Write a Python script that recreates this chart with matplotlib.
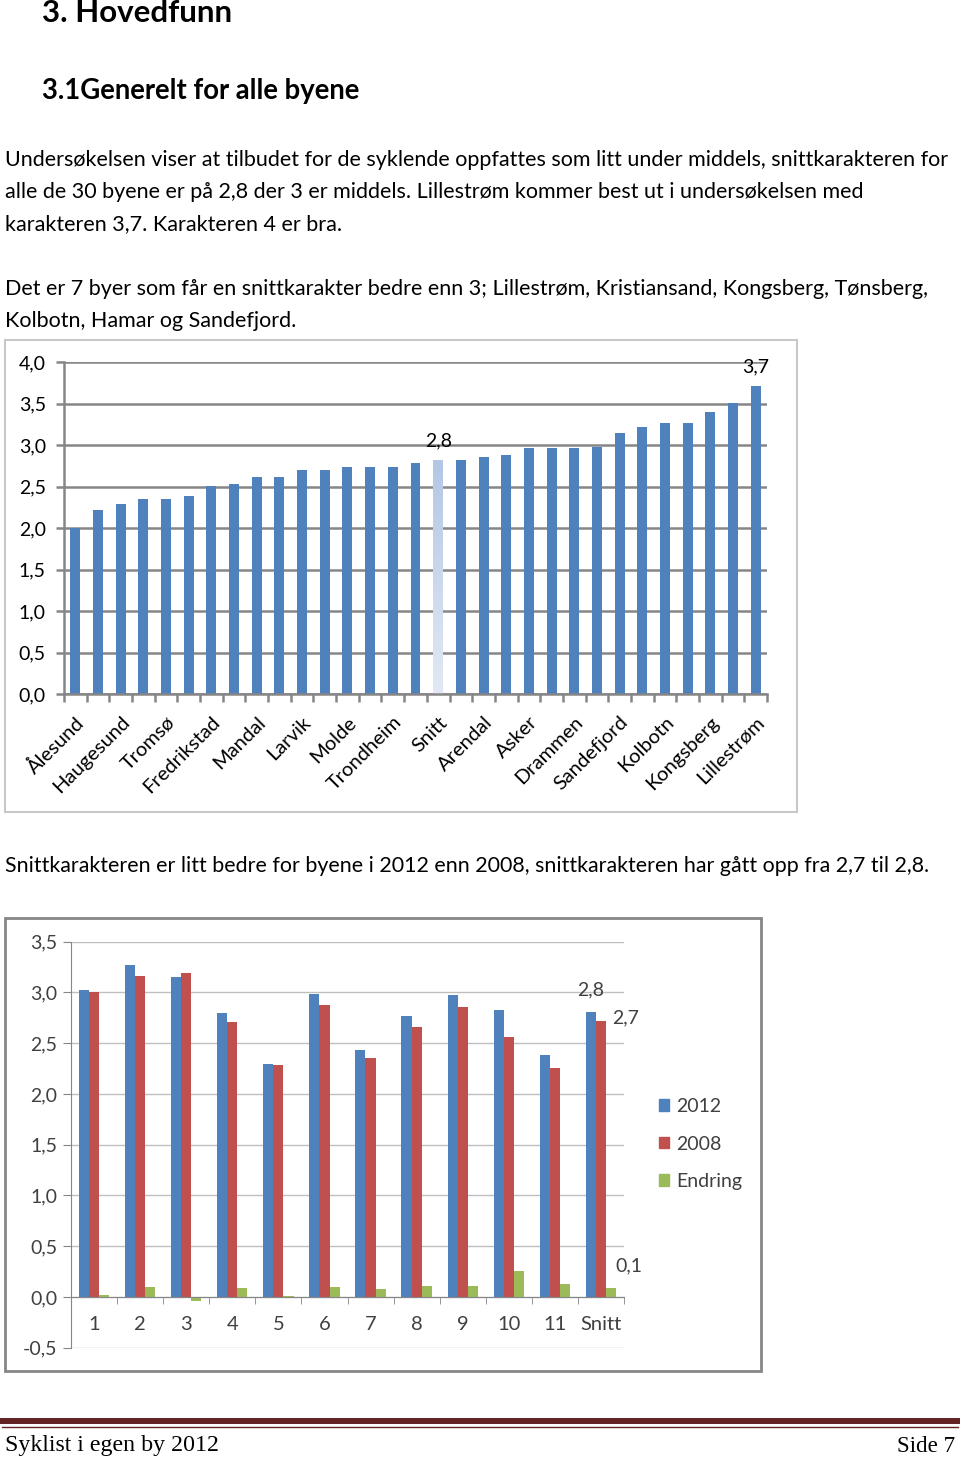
import numpy as np
import matplotlib.pyplot as plt
from matplotlib.patches import Rectangle, Patch
from matplotlib.lines import Line2D
from matplotlib.colors import LinearSegmentedColormap

W, H = 960, 1459
SANS = 'Lato'
SERIF = 'Liberation Serif'

# -------------------------------------------------------------------
# Data: chart 1 (average grade per city, sorted, 2012)
# -------------------------------------------------------------------
cities = ['Ålesund', '', 'Haugesund', '', 'Tromsø', '', 'Fredrikstad', '',
          'Mandal', '', 'Larvik', '', 'Molde', '', 'Trondheim', '',
          'Snitt', '', 'Arendal', '', 'Asker', '', 'Drammen', '',
          'Sandefjord', 'Hamar', 'Kolbotn', 'Tønsberg', 'Kongsberg',
          'Kristiansand', 'Lillestrøm']
scores = [2.00, 2.22, 2.29, 2.35, 2.35, 2.39, 2.51, 2.53, 2.61, 2.61,
          2.70, 2.70, 2.73, 2.74, 2.74, 2.78, 2.81, 2.82, 2.86, 2.88,
          2.96, 2.96, 2.96, 2.98, 3.14, 3.22, 3.26, 3.26, 3.40, 3.51, 3.71]
snitt_idx = cities.index('Snitt')
label_idx = [snitt_idx, len(cities) - 1]
label_txt = ['2,8', '3,7']

# -------------------------------------------------------------------
# Data: chart 2 (2012 vs 2008)
# -------------------------------------------------------------------
groups = ['1', '2', '3', '4', '5', '6', '7', '8', '9', '10', '11', 'Snitt']
v2012 = [3.02, 3.27, 3.15, 2.80, 2.30, 2.98, 2.43, 2.77, 2.97, 2.83, 2.38, 2.81]
v2008 = [3.00, 3.16, 3.19, 2.71, 2.29, 2.88, 2.35, 2.66, 2.86, 2.56, 2.26, 2.72]
endring = [0.02, 0.10, -0.04, 0.09, 0.01, 0.10, 0.08, 0.11, 0.11, 0.26, 0.13, 0.09]
series = [('2012', v2012, '#4f81bd'), ('2008', v2008, '#c0504d'),
          ('Endring', endring, '#9bbb59')]

BLUE = '#4f81bd'
GRID1 = '#868686'
DARK = '#404040'


def comma(v):
    return f'{v:.1f}'.replace('.', ',')


fig = plt.figure(figsize=(W / 100, H / 100), dpi=100)
fig.patch.set_facecolor('white')
fig.canvas.draw()
renderer = fig.canvas.get_renderer()


def px_axes(l, t, r, b):
    return fig.add_axes([l / W, 1 - b / H, (r - l) / W, (b - t) / H])


def put(x, y, s, width=None, size=12, ha='left', **kw):
    t = fig.text(x / W, 1 - y / H, s, ha=ha, va='center', fontsize=size, **kw)
    if width is not None:
        w = t.get_window_extent(renderer).width
        t.set_fontsize(size * width / w)
    return t


# -------------------------------------------------------------------
# Page text
# -------------------------------------------------------------------
put(42, 13, '3. Hovedfunn', width=190, family=SANS, weight='bold')
put(42, 91, '3.1Generelt for alle byene', width=318, family=SANS, weight='bold')

body = put(5, 160, 'Undersøkelsen viser at tilbudet for de syklende oppfattes som '
           'litt under middels, snittkarakteren for', width=940, family=SANS)
bs = body.get_fontsize()
put(5, 192, 'alle de 30 byene er på 2,8 der 3 er middels. Lillestrøm kommer best ut '
    'i undersøkelsen med', size=bs, family=SANS)
put(5, 224, 'karakteren 3,7. Karakteren 4 er bra.', size=bs, family=SANS)
put(5, 289, 'Det er 7 byer som får en snittkarakter bedre enn 3; Lillestrøm, '
    'Kristiansand, Kongsberg, Tønsberg,', size=bs, family=SANS)
put(5, 321, 'Kolbotn, Hamar og Sandefjord.', size=bs, family=SANS)
put(5, 866, 'Snittkarakteren er litt bedre for byene i 2012 enn 2008, '
    'snittkarakteren har gått opp fra 2,7 til 2,8.', width=917, family=SANS)

# footer
fig.add_artist(Line2D([2 / W, 958 / W], [1 - 1421 / H] * 2, transform=fig.transFigure,
                      color='#622423', lw=4.3))
fig.add_artist(Line2D([2 / W, 958 / W], [1 - 1426.5 / H] * 2, transform=fig.transFigure,
                      color='#622423', lw=1.0))
put(5, 1446, 'Syklist i egen by 2012', width=213, family=SERIF)
put(955, 1446, 'Side 7', width=58, ha='right', family=SERIF)

# -------------------------------------------------------------------
# Chart 1
# -------------------------------------------------------------------
fig.patches.append(Rectangle((5 / W, 1 - 812 / H), 792 / W, 472 / H,
                             transform=fig.transFigure, fill=False,
                             ec='#c8c8c8', lw=1.5))
ax1 = px_axes(64, 362, 767, 694)
x1 = np.arange(len(scores))
bars = ax1.bar(x1, scores, width=0.44, color=BLUE, zorder=2)
bars[snitt_idx].set_visible(False)
grad = LinearSegmentedColormap.from_list('snitt', ['#e2e9f4', '#b3c7e5'])
ax1.imshow(np.linspace(0, 1, 100).reshape(-1, 1), cmap=grad, origin='lower',
           aspect='auto', zorder=2,
           extent=[snitt_idx - 0.22, snitt_idx + 0.22, 0, scores[snitt_idx]])
ax1.set_xlim(-0.5, len(scores) - 0.5)
ax1.set_ylim(0, 4)
ax1.set_yticks(np.arange(0, 4.01, 0.5))
ax1.set_yticklabels([comma(v) for v in np.arange(0, 4.01, 0.5)],
                    family=SANS, fontsize=14)
ax1.grid(axis='y', color=GRID1, lw=1.8)
ax1.set_axisbelow(True)
for s in ['top', 'right']:
    ax1.spines[s].set_visible(False)
for s in ['left', 'bottom']:
    ax1.spines[s].set_color(GRID1)
    ax1.spines[s].set_linewidth(1.8)
ax1.tick_params(axis='y', length=6, width=1.8, color=GRID1, pad=7)
shown = list(range(0, len(cities), 2))
ax1.set_xticks(shown)
ax1.set_xticklabels([cities[i] for i in shown], rotation=45, ha='right',
                    rotation_mode='anchor', family=SANS, fontsize=14.5)
ax1.set_xticks(np.arange(-0.5, len(cities), 1), minor=True)
ax1.tick_params(axis='x', which='major', length=0, pad=14)
ax1.tick_params(axis='x', which='minor', length=6, width=1.8, color=GRID1)
for i, txt in zip(label_idx, label_txt):
    ax1.annotate(txt, (i, scores[i]), xytext=(0, 14), textcoords='offset points',
                 ha='center', va='center', fontsize=14, family=SANS)

# -------------------------------------------------------------------
# Chart 2
# -------------------------------------------------------------------
fig.patches.append(Rectangle((5 / W, 1 - 1371 / H), 756 / W, 453 / H,
                             transform=fig.transFigure, fill=False,
                             ec='#868686', lw=2))
ax2 = px_axes(71, 941.7, 624, 1347.7)
x2 = np.arange(len(groups))
bw = 0.22
for k, (name, vals, col) in enumerate(series):
    ax2.bar(x2 + (k - 1) * bw, vals, width=bw, color=col, label=name, zorder=2)
ax2.set_xlim(-0.5, len(groups) - 0.5)
ax2.set_ylim(-0.5, 3.5)
yt = np.arange(-0.5, 3.51, 0.5)
ax2.set_yticks(yt)
ax2.set_yticklabels([comma(v) for v in yt], family=SANS, fontsize=14,
                    color=DARK)
ax2.grid(axis='y', color='#bfbfbf', lw=1)
ax2.set_axisbelow(True)
for s in ['top', 'right']:
    ax2.spines[s].set_visible(False)
ax2.spines['left'].set_color('#868686')
ax2.spines['bottom'].set_color('#868686')
ax2.spines['bottom'].set_position(('data', 0))
ax2.spines['bottom'].set_zorder(3)
ax2.tick_params(axis='y', length=6, color='#868686', pad=4)
ax2.set_xticks(x2)
ax2.set_xticklabels(groups, family=SANS, fontsize=14.5, color=DARK)
ax2.set_xticks(np.arange(-0.5, len(groups), 1), minor=True)
ax2.tick_params(axis='x', which='major', length=0, pad=14)
ax2.tick_params(axis='x', which='minor', length=5, color='#868686')
last = len(groups) - 1
ax2.annotate(comma(v2012[last]), (last - bw, v2012[last]), xytext=(0, 16),
             textcoords='offset points', ha='center', va='center',
             fontsize=14, family=SANS, color=DARK)
ax2.annotate(comma(v2008[last]), (last, v2008[last]), xytext=(18, 2),
             textcoords='offset points', ha='center', va='center',
             fontsize=14, family=SANS, color=DARK)
ax2.annotate(comma(endring[last]), (last + bw, endring[last]), xytext=(13, 16),
             textcoords='offset points', ha='center', va='center',
             fontsize=14, family=SANS, color=DARK)

handles = [Patch(color=c, label=n) for n, _, c in series]
fig.legend(handles=handles, loc='center left',
           bbox_to_anchor=(641 / W, 1 - 1144 / H), frameon=False,
           handlelength=0.55, handleheight=0.55, handletextpad=0.35,
           labelspacing=1.05, prop={'family': SANS, 'size': 14},
           labelcolor=DARK)

fig.savefig('out.png', dpi=100, facecolor='white')
